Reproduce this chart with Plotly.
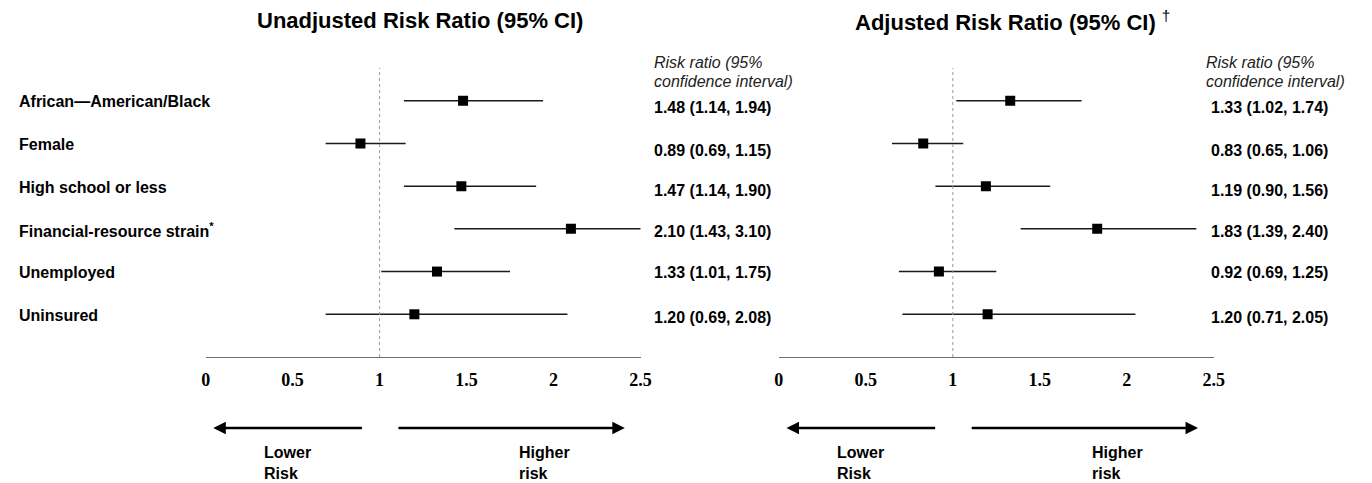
import plotly.graph_objects as go

# ---------------- data ----------------
CATEGORIES = [
    "African\u2014American/Black",
    "Female",
    "High school or less",
    "Financial-resource strain<sup>*</sup>",
    "Unemployed",
    "Uninsured",
]
UNADJ_RR = [1.48, 0.89, 1.47, 2.10, 1.33, 1.20]
UNADJ_LO = [1.14, 0.69, 1.14, 1.43, 1.01, 0.69]
UNADJ_HI = [1.94, 1.15, 1.90, 3.10, 1.75, 2.08]

ADJ_RR = [1.33, 0.83, 1.19, 1.83, 0.92, 1.20]
ADJ_LO = [1.02, 0.65, 0.90, 1.39, 0.69, 0.71]
ADJ_HI = [1.74, 1.06, 1.56, 2.40, 1.25, 2.05]

TICK_VALS = [0, 0.5, 1, 1.5, 2, 2.5]
TICK_LABELS = ["0", "0.5", "1", "1.5", "2", "2.5"]

TITLE_LEFT = "Unadjusted Risk Ratio (95% CI)"
TITLE_RIGHT = "Adjusted Risk Ratio (95% CI)"
HEADER_LINES = ["Risk ratio (95%", "confidence interval)"]

# ---------------- layout constants ----------------
W, H = 1372, 483
PLOT_TOP, PLOT_BOT = 68, 357   # pixel coordinates of the plot area
SANS = "Liberation Sans, Arial, sans-serif"
SERIF = "Liberation Serif, Times New Roman, serif"
VALUE_YSHIFT = [7, 7, 4, 3, 1, 3]   # px downward, table row offsets


def py(pix):
    """pixel y -> paper y"""
    return (PLOT_BOT - pix) / (PLOT_BOT - PLOT_TOP)


def px(pix):
    """pixel x -> paper x"""
    return pix / W


rows = list(range(1, len(CATEGORIES) + 1))

fig = go.Figure()

panels = [
    ("x", "y", UNADJ_RR, UNADJ_LO, UNADJ_HI),
    ("x2", "y2", ADJ_RR, ADJ_LO, ADJ_HI),
]

for xa, ya, rr, lo, hi in panels:
    lx, ly = [], []
    for r, a, b in zip(rows, lo, hi):
        lx += [a, b, None]
        ly += [r, r, None]
    fig.add_trace(go.Scatter(
        x=lx, y=ly, mode="lines", xaxis=xa, yaxis=ya,
        line=dict(color="#1a1a1a", width=1.5), hoverinfo="skip", showlegend=False,
    ))
    fig.add_trace(go.Scatter(
        x=rr, y=rows, mode="markers", xaxis=xa, yaxis=ya,
        marker=dict(symbol="square", size=10, color="black"),
        showlegend=False,
    ))
    # reference line at 1
    fig.add_shape(type="line", xref=xa, yref=ya + " domain", x0=1, x1=1, y0=0, y1=1,
                  line=dict(color="#9a9a9a", width=1, dash="dot"))

xaxis_common = dict(
    range=[0, 2.5], showgrid=False, zeroline=False,
    showline=True, linecolor="#6e6e6e", linewidth=1,
    tickmode="array", tickvals=TICK_VALS, ticktext=TICK_LABELS,
    ticks="outside", ticklen=6, tickcolor="rgba(0,0,0,0)",
    tickfont=dict(family=SERIF, size=18, color="black", weight="bold"),
    fixedrange=True,
)
yaxis_common = dict(range=[7, 0.234], visible=False, fixedrange=True)

fig.update_layout(
    width=W, height=H,
    margin=dict(l=0, r=0, t=PLOT_TOP, b=H - PLOT_BOT),
    plot_bgcolor="white", paper_bgcolor="white",
    xaxis=dict(domain=[px(203), px(643)], anchor="y", **xaxis_common),
    xaxis2=dict(domain=[px(783), px(1223)], anchor="y2", **xaxis_common),
    yaxis=dict(anchor="x", **yaxis_common),
    yaxis2=dict(anchor="x2", **yaxis_common),
    showlegend=False,
)

ann = []
# titles
ann.append(dict(text="<b>" + TITLE_LEFT + "</b>", xref="paper", yref="paper",
                x=px(253), y=py(21), xanchor="left", yanchor="middle", showarrow=False,
                font=dict(family=SANS, size=22, color="black")))
ann.append(dict(text="<b>" + TITLE_RIGHT + "</b> <sup><span style='color:black'>\u2020</span></sup>",
                xref="paper", yref="paper",
                x=px(858), y=py(21), xanchor="left", yanchor="middle", showarrow=False,
                font=dict(family=SANS, size=22, color="black")))

# row labels
for r, lab in zip(rows, CATEGORIES):
    ann.append(dict(text="<b>" + lab + "</b>", xref="paper", yref="y", x=px(12), y=r,
                    xanchor="left", yanchor="middle", showarrow=False, yshift=-1,
                    font=dict(family=SANS, size=16, color="black")))

# value columns
for (xa, ya, rr, lo, hi), hx, vx in zip(panels, [655, 1213], [655, 1218]):
    for i, line in enumerate(HEADER_LINES):
        ann.append(dict(text="<i>" + line + "</i>", xref="paper", yref="paper",
                        x=px(hx), y=py(63 + 19 * i), xanchor="left", yanchor="middle",
                        showarrow=False, font=dict(family=SANS, size=16, color="#222")))
    for r, a, b, c, ys in zip(rows, rr, lo, hi, VALUE_YSHIFT):
        ann.append(dict(text=f"<b>{a:.2f} ({b:.2f}, {c:.2f})</b>", xref="paper", yref=ya,
                        x=px(vx), y=r, yshift=-ys, xanchor="left", yanchor="middle",
                        showarrow=False, font=dict(family=SANS, size=16, color="black")))

    # direction arrows
    ann.append(dict(text="", xref=xa, yref="paper", x=0.044, y=py(428),
                    axref=xa, ax=0.907, ayref="pixel", ay=0,
                    showarrow=True, arrowhead=2, arrowsize=1, arrowwidth=2.5, arrowcolor="black"))
    ann.append(dict(text="", xref=xa, yref="paper", x=2.41, y=py(428),
                    axref=xa, ax=1.10, ayref="pixel", ay=0,
                    showarrow=True, arrowhead=2, arrowsize=1, arrowwidth=2.5, arrowcolor="black"))
    ann.append(dict(text="<b>Lower<br>Risk</b>", xref=xa, yref="paper", x=0.324, y=py(463),
                    xanchor="left", yanchor="middle", align="left", showarrow=False,
                    font=dict(family=SANS, size=16, color="black")))
    ann.append(dict(text="<b>Higher<br>risk</b>", xref=xa, yref="paper", x=1.79, y=py(463),
                    xanchor="left", yanchor="middle", align="left", showarrow=False,
                    font=dict(family=SANS, size=16, color="black")))

fig.update_layout(annotations=ann)

# remove the browser's default 8px body margin so the figure fills the window exactly
fig.write_html(
    "out.html",
    config={"displayModeBar": False},
    post_script="document.body.style.margin='0';document.body.style.overflow='hidden';",
)
